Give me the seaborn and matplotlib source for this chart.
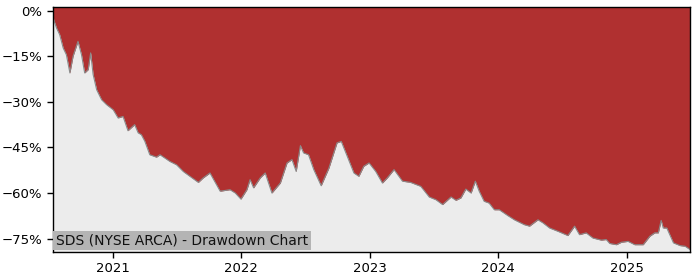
import matplotlib
matplotlib.use("Agg")
import matplotlib.pyplot as plt
import matplotlib.dates as mdates
from matplotlib.ticker import FuncFormatter
import seaborn as sns
import pandas as pd

dates = [
    "2020-07-15", "2020-07-17", "2020-07-25", "2020-08-03", "2020-08-13", "2020-08-22",
    "2020-09-01", "2020-09-10", "2020-09-24", "2020-10-04", "2020-10-13", "2020-10-23",
    "2020-10-30", "2020-11-06", "2020-11-16", "2020-11-30", "2020-12-14", "2021-01-02",
    "2021-01-16", "2021-01-30", "2021-02-13", "2021-03-04", "2021-03-14", "2021-03-23",
    "2021-04-02", "2021-04-16", "2021-05-05", "2021-05-15", "2021-06-12", "2021-07-01",
    "2021-07-20", "2021-08-08", "2021-09-01", "2021-09-15", "2021-10-04", "2021-11-02",
    "2021-11-30", "2021-12-15", "2021-12-31", "2022-01-17", "2022-01-26", "2022-02-05",
    "2022-02-24", "2022-03-10", "2022-03-29", "2022-04-22", "2022-05-11", "2022-05-25",
    "2022-06-06", "2022-06-18", "2022-06-27", "2022-07-11", "2022-07-26", "2022-08-16",
    "2022-09-07", "2022-09-30", "2022-10-12", "2022-10-29", "2022-11-17", "2022-12-01",
    "2022-12-15", "2022-12-30", "2023-01-18", "2023-02-06", "2023-02-20", "2023-03-11",
    "2023-04-04", "2023-04-27", "2023-05-26", "2023-06-19", "2023-07-08", "2023-07-27",
    "2023-08-20", "2023-09-03", "2023-09-17", "2023-10-01", "2023-10-16", "2023-10-28",
    "2023-11-08", "2023-11-22", "2023-12-06", "2023-12-21", "2024-01-04", "2024-01-28",
    "2024-02-16", "2024-03-15", "2024-03-30", "2024-04-23", "2024-05-07", "2024-05-26",
    "2024-06-19", "2024-07-17", "2024-08-05", "2024-08-19", "2024-09-07", "2024-09-26",
    "2024-10-20", "2024-11-03", "2024-11-13", "2024-12-02", "2024-12-16", "2025-01-04",
    "2025-01-23", "2025-02-16", "2025-03-07", "2025-03-21", "2025-03-31", "2025-04-08",
    "2025-04-14", "2025-04-24", "2025-05-13", "2025-06-01", "2025-06-15", "2025-06-29",
]

drawdown = [
    -1.5, -3.0, -5.7, -7.9, -12.3, -14.5,
    -20.5, -15.0, -10.1, -14.5, -20.5, -19.4,
    -13.9, -21.0, -26.0, -29.3, -30.9, -32.6,
    -35.3, -34.8, -39.5, -37.5, -40.2, -40.8,
    -43.0, -47.4, -48.2, -47.4, -49.6, -50.7,
    -52.9, -54.5, -56.5, -55.0, -53.4, -59.4,
    -58.9, -60.0, -62.0, -58.9, -55.6, -58.3,
    -55.0, -53.4, -60.0, -56.7, -50.1, -49.0,
    -52.9, -44.4, -46.8, -47.4, -52.3, -57.6,
    -51.8, -43.5, -43.0, -47.9, -53.4, -54.5,
    -51.2, -50.1, -52.9, -56.7, -55.0, -52.3,
    -56.1, -56.5, -57.8, -61.3, -62.2, -63.8,
    -61.3, -62.4, -61.6, -58.7, -60.0, -56.1,
    -59.4, -62.7, -63.3, -65.5, -65.5, -67.4,
    -68.8, -70.4, -70.9, -68.8, -69.8, -71.5,
    -72.6, -74.0, -70.9, -73.7, -73.1, -74.8,
    -75.5, -75.3, -76.6, -77.0, -76.2, -75.9,
    -77.0, -77.0, -74.2, -73.1, -73.1, -69.0,
    -71.5, -71.5, -76.4, -77.3, -77.5, -78.6,
]

y_ticks = [0, -15, -30, -45, -60, -75]
x_tick_years = [2021, 2022, 2023, 2024, 2025]
title_text = "SDS (NYSE ARCA) - Drawdown Chart"

df = pd.DataFrame({"date": pd.to_datetime(dates), "dd": drawdown})

sns.set_style("ticks")
plt.rcParams["font.family"] = ["DejaVu Sans"]

fig = plt.figure(figsize=(7, 2.8), dpi=100)
ax = fig.add_axes([53 / 700, 1 - 252 / 280, (690 - 53) / 700, (252 - 7) / 280])
ax.set_facecolor("#ececec")

ylo, yhi = -79.4, 1.2
ax.fill_between(df["date"], df["dd"], yhi + 5, color="#b03030", linewidth=0)
sns.lineplot(data=df, x="date", y="dd", ax=ax, color="#8a8a8a", linewidth=0.8)

ax.set_ylim(ylo, yhi)
ax.set_xlim(df["date"].min(), df["date"].max())
ax.set_yticks(y_ticks)
ax.yaxis.set_major_formatter(FuncFormatter(lambda v, p: f"{int(v)}%".replace("-", "\u2212")))
ax.set_xticks([pd.Timestamp(f"{y}-01-01") for y in x_tick_years])
ax.xaxis.set_major_formatter(mdates.DateFormatter("%Y"))
ax.set_xlabel("")
ax.set_ylabel("")
ax.tick_params(axis="both", labelsize=9.5, length=4, width=1, colors="black")

for s in ax.spines.values():
    s.set_visible(True)
    s.set_color("black")
    s.set_linewidth(1)

ax.text(0.005, 0.018, title_text, transform=ax.transAxes, fontsize=10,
        ha="left", va="bottom", color="#111111",
        bbox=dict(facecolor="#b4b4b4", edgecolor="none", pad=2.0))

fig.savefig("out.png", dpi=100)
